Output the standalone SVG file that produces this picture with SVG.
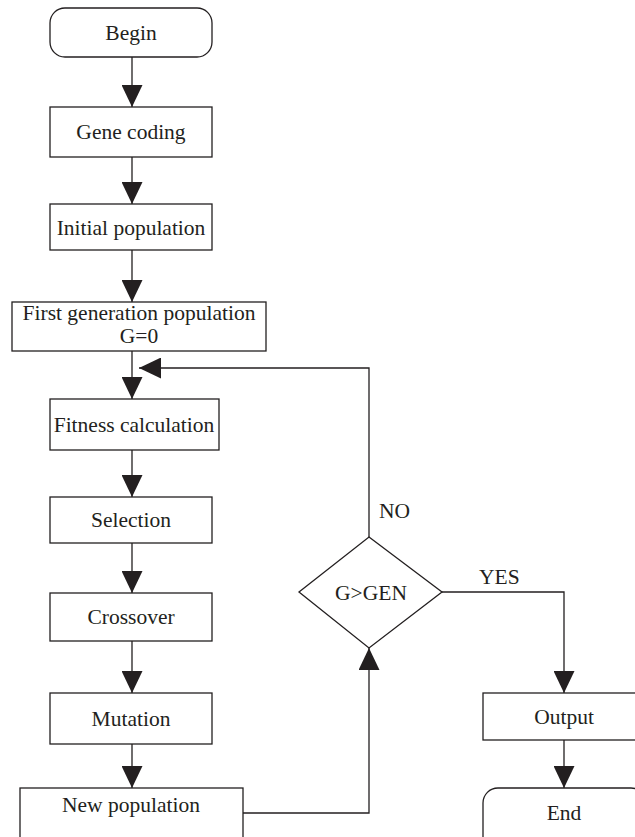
<svg xmlns="http://www.w3.org/2000/svg" width="635" height="837" viewBox="0 0 635 837">
<style>
.box{fill:#fff;stroke:#231f20;stroke-width:1.3}
.ln{fill:none;stroke:#231f20;stroke-width:1.3}
text{font-family:"Liberation Serif","Times New Roman",serif;font-size:21.5px;fill:#231f20;text-anchor:middle}
.lbl{text-anchor:start}
</style>
<defs>
<marker id="ah" markerUnits="userSpaceOnUse" markerWidth="22" markerHeight="21" viewBox="0 0 22 21" refX="22" refY="10.5" orient="auto">
<path d="M0,0 L22,10.5 L0,21 z" fill="#231f20"/>
</marker>
</defs>
<rect x="0" y="0" width="635" height="837" fill="#fff"/>
<g id="connectors">
<line class="ln" x1="132" y1="57" x2="132" y2="107" marker-end="url(#ah)"/>
<line class="ln" x1="132" y1="157" x2="132" y2="204" marker-end="url(#ah)"/>
<line class="ln" x1="132" y1="250" x2="132" y2="302" marker-end="url(#ah)"/>
<line class="ln" x1="132" y1="351" x2="132" y2="399" marker-end="url(#ah)"/>
<line class="ln" x1="132" y1="450" x2="132" y2="497" marker-end="url(#ah)"/>
<line class="ln" x1="132" y1="543" x2="132" y2="593" marker-end="url(#ah)"/>
<line class="ln" x1="132" y1="641" x2="132" y2="693" marker-end="url(#ah)"/>
<line class="ln" x1="132" y1="744" x2="132" y2="788" marker-end="url(#ah)"/>
<polyline class="ln" points="369,537 369,368 139,368" marker-end="url(#ah)"/>
<polyline class="ln" points="243,813 369,813 369,648" marker-end="url(#ah)"/>
<polyline class="ln" points="442,592 564,592 564,693" marker-end="url(#ah)"/>
<line class="ln" x1="564" y1="740" x2="564" y2="788" marker-end="url(#ah)"/>
<text class="lbl" x="379" y="518">NO</text>
<text class="lbl" x="479" y="584">YES</text>
</g>
<g id="begin"><rect class="box" x="50" y="8" width="162" height="49" rx="15"/><text x="131" y="40">Begin</text></g>
<g id="gene-coding"><rect class="box" x="50" y="107" width="162" height="50"/><text x="131" y="139">Gene coding</text></g>
<g id="initial-population"><rect class="box" x="50" y="204" width="162" height="46"/><text x="131" y="235">Initial population</text></g>
<g id="first-generation"><rect class="box" x="12" y="302" width="254" height="49"/><text x="139" y="320">First generation population</text><text x="139" y="343">G=0</text></g>
<g id="fitness"><rect class="box" x="50" y="399" width="169" height="51"/><text x="134" y="432">Fitness calculation</text></g>
<g id="selection"><rect class="box" x="50" y="497" width="162" height="46"/><text x="131" y="527">Selection</text></g>
<g id="crossover"><rect class="box" x="50" y="593" width="162" height="48"/><text x="131" y="624">Crossover</text></g>
<g id="mutation"><rect class="box" x="50" y="693" width="162" height="51"/><text x="131" y="726">Mutation</text></g>
<g id="new-population"><rect class="box" x="20" y="788" width="223" height="70"/><text x="131" y="812">New population</text></g>
<g id="decision"><polygon class="box" points="369,537 442,592 369,648 299,592"/><text x="371" y="600">G&gt;GEN</text></g>
<g id="output"><rect class="box" x="483" y="693" width="163" height="47"/><text x="564" y="724">Output</text></g>
<g id="end"><rect class="box" x="483" y="788" width="163" height="70" rx="15"/><text x="564" y="820">End</text></g>
</svg>
